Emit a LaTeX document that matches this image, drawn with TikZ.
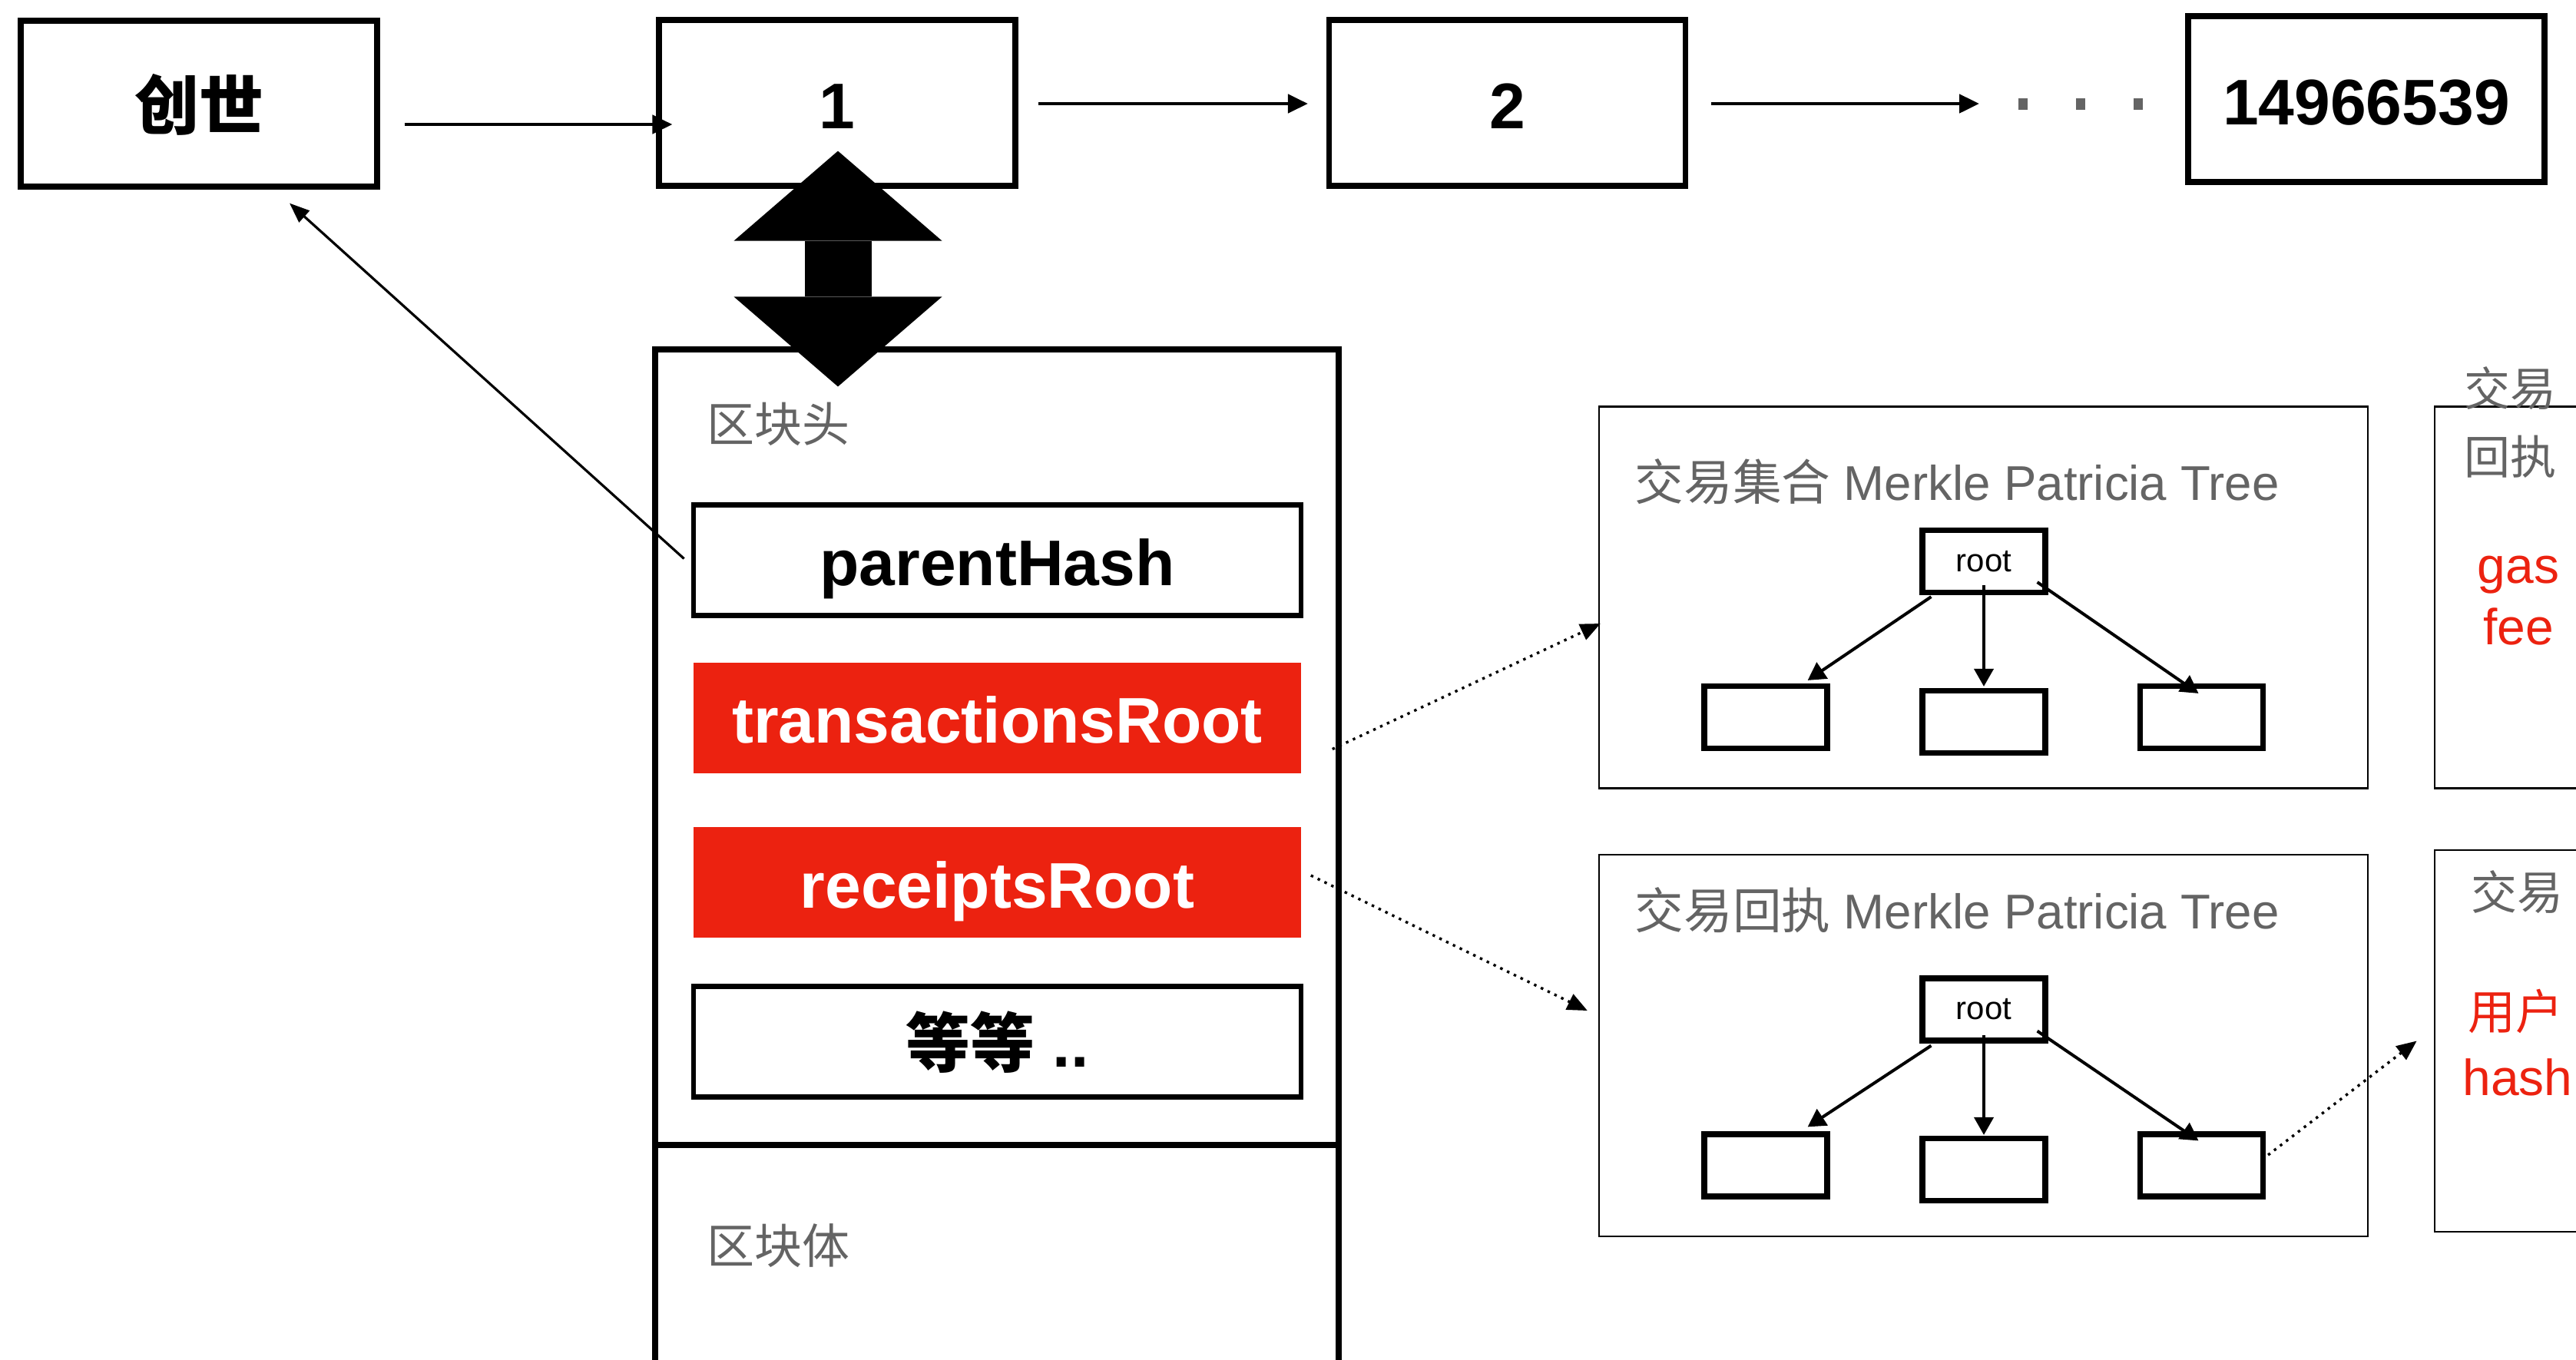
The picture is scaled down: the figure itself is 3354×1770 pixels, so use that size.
\documentclass[tikz,border=0pt]{standalone}
\usepackage{fontspec}
\setmainfont{Liberation Sans}
\newfontfamily\cjk{Noto Sans CJK SC}
\usetikzlibrary{arrows.meta,calc}
\definecolor{myred}{RGB}{236,34,16}
\definecolor{mygray}{RGB}{100,100,100}
\tikzset{
  blk/.style={draw, line width=1.8pt, minimum width=116pt, minimum height=54pt, inner sep=0pt, text height=20pt, text depth=3.5pt, font=\fontsize{21pt}{25pt}\selectfont\bfseries},
  fld/.style={draw, line width=1.7pt, minimum width=197.75pt, minimum height=36pt, inner sep=0pt, text height=20pt, text depth=3.5pt, font=\fontsize{21pt}{25pt}\selectfont\bfseries},
  redfld/.style={fill=myred, text=white, minimum width=197.75pt, minimum height=36pt, inner sep=0pt, text height=20pt, text depth=3.5pt, font=\fontsize{21pt}{25pt}\selectfont\bfseries},
  part/.style={draw, line width=1.8pt, minimum width=222.5pt, inner sep=0pt},
  lbl/.style={text=mygray, anchor=west, inner sep=0pt, font=\fontsize{15.9pt}{18pt}\selectfont},
  treebox/.style={draw, line width=0.6pt, minimum width=250.25pt, minimum height=124.25pt, inner sep=0pt},
  sidebox/.style={draw, line width=0.7pt, minimum width=57.5pt, minimum height=124.25pt, inner sep=0pt},
  tn/.style={draw, line width=1.8pt, minimum width=40pt, minimum height=20.25pt, inner sep=0pt, font=\fontsize{10.5pt}{12pt}\selectfont},
  sidegray/.style={text=mygray, inner sep=0pt, font=\fontsize{15pt}{18pt}\selectfont\cjk},
  sidered/.style={text=myred, inner sep=0pt, font=\fontsize{16.5pt}{20pt}\selectfont},
  arr/.style={line width=1.2pt, -{Triangle[length=6.5pt,width=6pt]}},
  tarr/.style={line width=1pt, -{Triangle[length=5.75pt,width=6.25pt]}},
  dotarr/.style={line width=0.85pt, dash pattern=on 0.85pt off 1.6pt, -{Triangle[length=6.5pt,width=5.5pt]}},
  dbl/.style={line width=21.75pt, {Triangle[length=29.25pt,width=67.75pt,line width=0pt]}-{Triangle[length=29.25pt,width=67.75pt,line width=0pt]}},
}
\begin{document}
\begin{tikzpicture}[x=0.25pt,y=-0.25pt]
\clip (0,0) rectangle (3354,1770);
\fill[white] (0,0) rectangle (3354,1770);

% chain of blocks
\node[blk] (g)  at (259,135)   {\cjk 创世};
\node[blk] (b1) at (1090,134)  {1};
\node[blk] (b2) at (1962.5,134) {2};
\node[blk] (bn) at (3081,129)  {14966539};
\coordinate (dl) at (2577,135);
\coordinate (d1) at (2628,135);
\coordinate (d2) at (2790,135);

\draw[arr] ($(g.east)+(32,27)$) -- ($(b1.west)+(21,28)$);
\draw[arr] ($(b1.east)+(26,1)$) -- ($(b2.west)+(-24,1)$);
\draw[arr] ($(b2.east)+(30,1)$) -- (dl);
\draw[mygray, line width=3.75pt, dash pattern=on 3pt off 15.75pt] (d1) -- (d2);

% block structure
\node[part, minimum height=259pt] (hdr) at (1298,973) {};
\node[part, minimum height=77.25pt] (body) at (1298,1645.5) {};
\node[lbl, font=\fontsize{15.5pt}{18pt}\selectfont] (hdrl) at (920,552) {\cjk 区块头};
\node[lbl, font=\fontsize{15.5pt}{18pt}\selectfont] (bodyl) at (920,1622) {\cjk 区块体};

\node[fld] (ph) at (1298.5,729.5) {parentHash};
\node[redfld] (tr) at (1298.5,934.5) {transactionsRoot};
\node[redfld] (rr) at (1298.5,1149) {receiptsRoot};
\node[fld] (etc) at (1298.5,1356.5) {{\cjk 等等} ..};

\draw[line width=0.8pt, -{Triangle[length=6.5pt,width=5pt]}] ($(ph.west)+(-9,-2)$) -- ($(g.south)+(118,18)$);

\draw[dbl] ($(b1.south)+(1,-49)$) -- ($(b1.south |- hdr.north)+(1,52)$);

% transaction tree
\node[treebox] (t1) at (2582.5,778) {};
\node[lbl] (t1l) at (2128,627) {{\cjk 交易集合} Merkle Patricia Tree};
\node[tn] (t1r) at (2583,731) {root};
\node[tn] (t1a) at (2299,934) {};
\node[tn] (t1b) at (2583,940) {};
\node[tn] (t1c) at (2866.5,934) {};
\draw[tarr] ($(t1r.south west)+(15,2)$) -- ($(t1a.north east)+(-29,-4)$);
\draw[tarr] ($(t1r.south)+(0,-13)$) -- ($(t1b.north)+(0,-2)$);
\draw[tarr] ($(t1r.south east)+(-14,-17)$) -- ($(t1c.north)+(-4,13)$);

% receipt tree
\node[treebox] (t2) at (2582.5,1361.5) {};
\node[lbl] (t2l) at (2128,1185) {{\cjk 交易回执} Merkle Patricia Tree};
\node[tn] (t2r) at (2583,1314.5) {root};
\node[tn] (t2a) at (2299,1517.5) {};
\node[tn] (t2b) at (2583,1523) {};
\node[tn] (t2c) at (2866.5,1517.5) {};
\draw[tarr] ($(t2r.south west)+(15,3)$) -- ($(t2a.north east)+(-29,-6)$);
\draw[tarr] ($(t2r.south)+(0,-11)$) -- ($(t2b.north)+(0,-1)$);
\draw[tarr] ($(t2r.south east)+(-14,-16)$) -- ($(t2c.north)+(-4,12)$);

% side boxes
\node[sidebox] (r1) at (3285,778) {};
\node[sidebox] (r2) at (3285,1355.5) {};
\node[sidegray] (r1a) at (3268,506) {交易};
\node[sidegray] (r1b) at (3268,595) {回执};
\node[sidered, anchor=base] (r1c) at (3279,759) {gas};
\node[sidered, anchor=base] (r1d) at (3279,839) {fee};
\node[sidegray] (r2a) at (3277,1162) {交易};
\node[sidered, font=\fontsize{15.5pt}{18pt}\selectfont\cjk] (r2b) at (3275,1317) {用户};
\node[sidered, anchor=base] (r2c) at (3278,1426) {hash};

% dotted links
\draw[dotarr] ($(tr.east)+(40,41)$) -- ($(t1.west)+(3,34)$);
\draw[dotarr] ($(rr.east)+(12,-9)$) -- ($(t2.west)+(-14,-45.5)$);
\draw[dotarr] ($(t2c.east)+(3,-13.5)$) -- ($(r2.west)+(-22,0)$);
\end{tikzpicture}
\end{document}
